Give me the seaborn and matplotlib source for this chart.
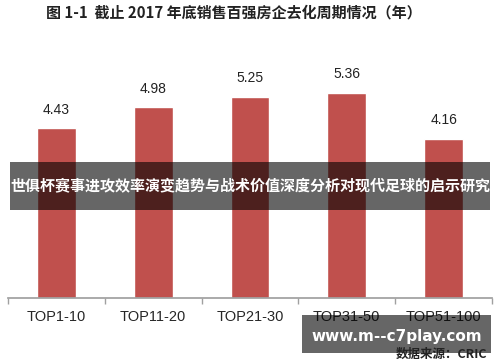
import matplotlib
matplotlib.use("Agg")
import matplotlib.pyplot as plt
import seaborn as sns
import pandas as pd
from matplotlib.patches import Rectangle

categories = ["TOP1-10", "TOP11-20", "TOP21-30", "TOP31-50", "TOP51-100"]
values = [4.43, 4.98, 5.25, 5.36, 4.16]
title = "图 1-1  截止 2017 年底销售百强房企去化周期情况（年）"
overlay = "世俱杯赛事进攻效率演变趋势与战术价值深度分析对现代足球的启示研究"
watermark = "www.m--c7play.com"
source = "数据来源：CRIC"

sns.set_theme(style="white")
plt.rcParams['font.family'] = ['Noto Sans CJK SC', 'DejaVu Sans']

df = pd.DataFrame({"cat": categories, "val": values})
fig = plt.figure(figsize=(5, 3.62), dpi=100)
ax = fig.add_axes([0.016, 0.177, 0.968, 0.635])
sns.barplot(data=df, x="cat", y="val", color="#C0504D", width=0.4, saturation=1, ax=ax)
ax.set_ylim(0, 6)
ax.set_xlim(-0.5, len(categories) - 0.5)
for s in ["top", "right", "left"]:
    ax.spines[s].set_visible(False)
ax.spines["bottom"].set_color("#A0A0A0")
ax.set_yticks([])
ax.set_xlabel("")
ax.set_ylabel("")
ax.set_xticks(range(len(categories)))
ax.set_xticklabels(categories, fontsize=10.5, fontfamily=['Liberation Sans', 'DejaVu Sans'])
ax.tick_params(axis="x", which="major", length=0, pad=9)
ax.set_xticks([i - 0.5 for i in range(len(categories) + 1)], minor=True)
ax.tick_params(axis="x", which="minor", length=4, color="#A0A0A0", bottom=True)
for i, v in enumerate(values):
    ax.text(i, v + 0.3, f"{v:.2f}", ha="center", va="bottom", fontsize=10, color="#222222",
            fontfamily=['Liberation Sans', 'DejaVu Sans'])

fig.text(0.468, 0.965, title, ha="center", va="center", fontsize=10.8, fontweight="bold", color="#222222")

fig.patches.append(Rectangle((0.02, 1 - 210 / 362), 0.96, 48 / 362, transform=fig.transFigure,
                             facecolor="black", alpha=0.6, edgecolor="none", zorder=5))
fig.text(0.5, 1 - 186 / 362, overlay, ha="center", va="center", fontsize=10.8, fontweight="bold",
         color="white", zorder=6)

fig.patches.append(Rectangle((302 / 500, 1 - 353 / 362), 189 / 500, 38 / 362, transform=fig.transFigure,
                             facecolor="black", alpha=0.6, edgecolor="none", zorder=5))
fig.text(397 / 500, 1 - 336 / 362, watermark, ha="center", va="center", fontsize=11, fontweight="bold",
         color="white", zorder=6, fontfamily=['DejaVu Sans'])
fig.text(487 / 500, 1 - 354 / 362, source, ha="right", va="center", fontsize=9, fontweight="bold",
         color="#222222", zorder=7)

fig.savefig("out.png", dpi=100)
